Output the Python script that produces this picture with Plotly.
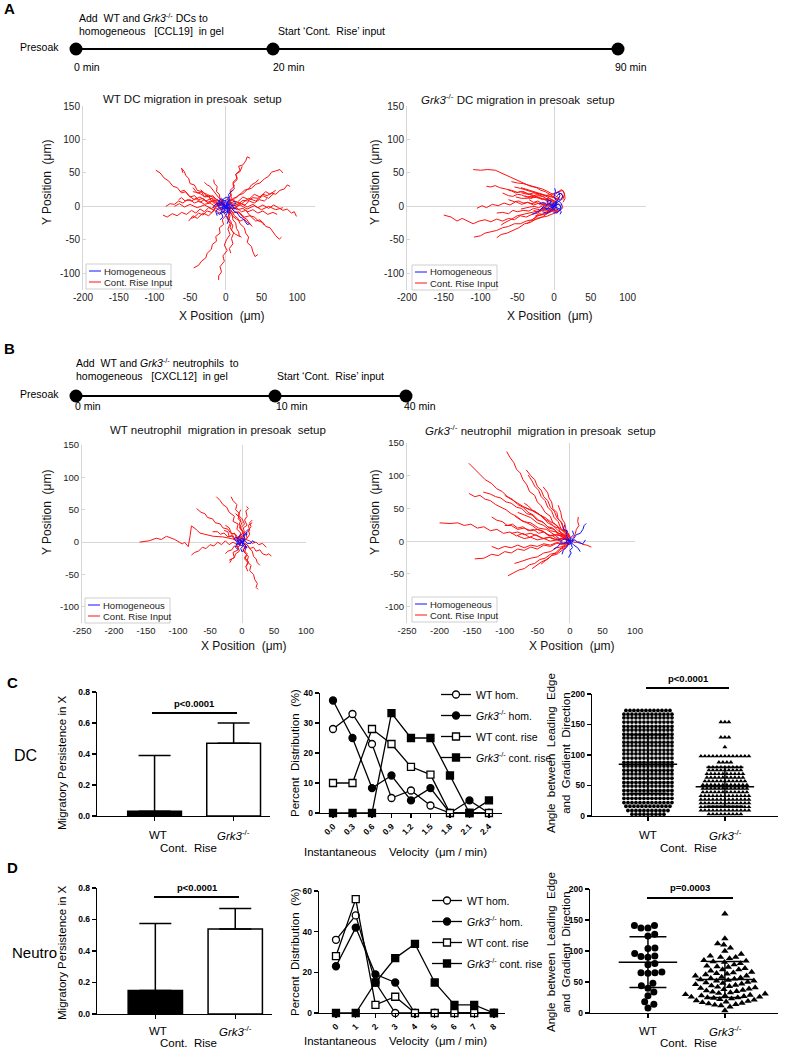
import numpy as np
import plotly.graph_objects as go

W, H = 785, 1050

# ======================= DATA =======================
# --- Panel A: WT DC tracks (x, y in µm) ---
WT_DC_HOMOG = [
    [(0, 0), (-4, 5), (-8, 2), (-10, 8), (-6, 12), (-2, 8), (2, 10)],
    [(0, 0), (4, -4), (8, -2), (12, -8), (16, -10), (20, -16), (24, -18), (30, -27), (34, -26)],
    [(0, 0), (2, 6), (5, 12), (4, 18), (8, 22), (10, 25)],
    [(0, 0), (-6, -5), (-10, -2), (-14, -8), (-12, -14)],
    [(0, 0), (3, -8), (0, -14), (4, -20), (2, -26)],
    [(0, 0), (-5, 4), (-10, 0), (-12, 5), (-15, 2), (-18, -2)],
    [(0, 0), (6, 3), (10, 0), (14, 4), (12, 8)],
    [(0, 0), (-2, -6), (-6, -10), (-4, -16), (-8, -20)],
    [(0, 0), (2, 4), (-2, 6), (-4, 2), (-1, -2), (3, -4), (6, 2)],
    [(0, 0), (-8, -2), (-12, 3), (-6, 6), (-3, 0)],
    [(0, 0), (5, -3), (9, 2), (12, -4), (16, -2)],
    [(0, 0), (-3, -3), (-7, -6), (-4, -9), (0, -6), (4, -10), (8, -8)],
    [(0, 0), (3, 3), (1, 7), (-3, 9), (-6, 5), (-9, 7), (-12, 10)],
    [(0, 0), (-2, 2), (-5, -1), (-3, -4), (1, -3), (3, 1), (5, 5), (8, 6)],
    [(0, 0), (4, -2), (6, -6), (2, -8), (-2, -10), (-6, -8), (-8, -12), (-12, -10)],
    [(0, 0), (-4, 3), (-6, 8), (-2, 12), (2, 14), (6, 10), (4, 6)],
]
WT_DC_RISE = [
    [(0, 0), (4, 6), (2, 12), (8, 16), (6, 24), (12, 30), (10, 36), (16, 42), (14, 48), (20, 54), (18, 60), (24, 62), (28, 68), (30, 74), (34, 72)],
    [(0, 2), (-5, 5), (-9, 3), (-14, 9), (-20, 8), (-24, 15), (-30, 14), (-34, 22), (-40, 24), (-44, 32), (-50, 34), (-52, 42), (-56, 46), (-58, 52), (-62, 57), (-60, 50)],
    [(-2, 0), (-8, 4), (-14, 2), (-20, 8), (-26, 6), (-32, 12), (-38, 10), (-44, 16), (-50, 14), (-56, 22), (-62, 20), (-68, 28), (-74, 30), (-80, 38), (-86, 42), (-92, 50), (-98, 54)],
    [(0, -1), (-6, -4), (-12, 0), (-18, -5), (-24, -2), (-30, -8), (-36, -4), (-42, -10), (-48, -6), (-55, -12), (-62, -9), (-68, -14), (-75, -11), (-82, -16), (-88, -13)],
    [(0, 1), (-6, 5), (-12, 3), (-18, 8), (-24, 5), (-30, 10), (-36, 6), (-42, 12), (-48, 8), (-54, 10), (-60, 5), (-66, 8), (-72, 3), (-78, 4), (-84, 0)],
    [(0, -2), (-3, -8), (0, -14), (-5, -20), (-3, -27), (-9, -32), (-8, -40), (-14, -45), (-13, -52), (-19, -57), (-20, -64), (-26, -70), (-28, -77), (-34, -82), (-38, -88), (-45, -92)],
    [(2, -2), (5, -10), (2, -18), (6, -26), (3, -34), (6, -42), (1, -50), (-2, -58), (2, -66), (-4, -74), (-2, -82), (-8, -90), (-6, -98), (-10, -104), (-10, -110)],
    [(1, -1), (6, -8), (3, -16), (8, -24), (6, -32), (11, -40), (8, -48), (10, -56), (5, -63), (7, -70)],
    [(2, -2), (8, -6), (12, -14), (17, -18), (20, -26), (26, -32), (28, -40), (32, -46), (30, -54), (36, -60), (38, -68), (41, -75), (45, -72)],
    [(2, 0), (9, -4), (15, -2), (22, -8), (28, -6), (34, -14), (40, -16), (46, -22), (52, -24), (56, -30), (62, -32), (66, -38), (70, -44), (75, -49), (78, -46)],
    [(2, 1), (8, 3), (15, 0), (22, 4), (30, -1), (38, 3), (45, -2), (52, 2), (60, -3), (67, 2), (74, -2), (80, -6), (86, -4), (92, -10), (96, -8), (99, -15)],
    [(3, 2), (10, 5), (17, 3), (24, 9), (31, 8), (38, 13), (45, 12), (52, 18), (58, 16), (64, 20), (70, 18), (76, 24), (82, 26), (86, 32), (90, 30)],
    [(1, 3), (6, 9), (12, 11), (18, 17), (24, 19), (30, 25), (36, 27), (42, 33), (48, 35), (54, 41), (60, 45), (64, 51), (70, 53), (76, 55), (80, 50)],
    [(0, 2), (6, 6), (10, 12), (16, 14), (22, 20), (26, 24), (32, 26), (36, 32), (42, 36), (46, 40)],
    [(0, 1), (3, 8), (8, 12), (6, 20), (12, 26), (10, 34), (16, 40), (14, 48), (20, 52), (23, 60)],
    [(-1, 2), (-4, 8), (-8, 10), (-9, 18), (-13, 22), (-12, 30), (-16, 34), (-17, 40)],
    [(-2, 1), (-7, 6), (-12, 5), (-17, 11), (-22, 12), (-26, 18), (-31, 20), (-35, 25)],
    [(-1, -1), (-8, 2), (-15, 0), (-22, 5), (-30, 3), (-37, 8), (-44, 5), (-50, 10), (-57, 8), (-62, 13), (-66, 10)],
    [(1, -2), (5, -8), (9, -12), (10, -20), (14, -25), (15, -33), (18, -38), (19, -45)],
    [(2, -1), (8, -3), (13, -8), (19, -10), (24, -16), (29, -19), (33, -25), (37, -30)],
    [(1, 0), (7, 4), (13, 1), (20, 5), (27, 2), (33, 8), (40, 5), (47, 10), (54, 8), (58, 12)],
    [(2, -1), (9, -1), (16, -5), (24, -3), (31, -8), (38, -5), (45, -10), (52, -7), (59, -12), (66, -9), (72, -12)],
    [(-3, 0), (-8, -6), (-14, -3), (-20, -9), (-26, -7), (-32, -13), (-38, -10), (-44, -16), (-48, -18)],
    [(-2, 2), (-5, 9), (-10, 13), (-14, 19), (-18, 24), (-22, 30), (-26, 32), (-30, 36)],
    [(0, 0), (-6, 7), (-12, 10), (-18, 14), (-24, 17), (-30, 15), (-36, 19), (-42, 21), (-46, 22)],
    [(0, 0), (5, -7), (9, -14), (15, -19), (20, -22), (26, -19), (30, -24), (34, -26)],
    [(0, 0), (-10, 2), (-20, -3), (-30, 2), (-40, -2), (-50, 3), (-58, -1), (-65, 4), (-72, 0)],
    [(0, 0), (10, -3), (20, 2), (30, -4), (40, 1), (50, -5), (60, 0), (70, -5), (80, -2)],
    [(0, 0), (8, 10), (16, 6), (24, 14), (32, 10), (40, 18), (48, 14), (56, 22), (62, 18), (70, 24)],
    [(0, 0), (-8, -10), (-16, -6), (-24, -14), (-32, -10), (-40, -18), (-46, -14), (-52, -22)],
    [(0, 0), (-5, 10), (-12, 8), (-18, 16), (-26, 14), (-32, 22), (-40, 20), (-46, 28)],
    [(0, 0), (12, 8), (22, 4), (32, 12), (42, 8), (52, 16), (60, 12), (68, 20)],
    [(0, 0), (10, -10), (18, -8), (26, -16), (34, -14), (42, -22), (48, -20), (54, -28)],
    [(0, 0), (-12, 4), (-20, 12), (-28, 8), (-36, 14), (-44, 10), (-52, 16), (-58, 24), (-64, 22)],
    [(0, 0), (6, -14), (4, -22), (10, -28), (8, -36), (14, -42), (22, -46)],
]
# --- Panel A: Grk3-/- DC tracks ---
KO_DC_HOMOG = [
    [(0, 0), (-8, -4), (-15, -2), (-22, -8), (-30, -12)],
    [(0, 0), (3, 8), (0, 15), (2, 22), (1, 27)],
    [(0, 0), (6, 4), (10, -2), (8, -6), (4, -10), (-2, -8)],
    [(0, 0), (-5, 5), (-10, 2), (-14, 6), (-20, 4)],
    [(0, 0), (5, 10), (8, 16), (6, 22), (3, 20)],
    [(0, 0), (-4, -6), (-10, -10), (-16, -8)],
    [(0, 0), (-2, 4), (2, 6), (4, 2), (1, -3), (-3, -1)],
    [(0, 0), (-6, 0), (-10, -5), (-14, 0), (-18, -4)],
    [(0, 0), (8, -4), (10, 4), (6, 8)],
    [(0, 0), (4, 6), (10, 10), (12, 16), (8, 20), (4, 16)],
    [(0, 0), (-3, -3), (2, -6), (6, -4), (10, -8), (8, -12)],
    [(0, 0), (-6, 3), (-4, 8), (-10, 10), (-8, 4), (-12, 0)],
]
KO_DC_RISE = [
    [(5, 8), (0, 14), (-6, 18), (-12, 22), (-18, 24), (-24, 28), (-32, 30), (-40, 34), (-48, 38), (-56, 42), (-64, 46), (-72, 50), (-80, 54), (-90, 55), (-100, 54), (-110, 55)],
    [(0, -2), (-8, -6), (-15, -4), (-22, -10), (-30, -12), (-38, -16), (-46, -14), (-54, -20), (-62, -18), (-70, -22), (-78, -19), (-86, -23), (-94, -20), (-102, -22), (-110, -26), (-118, -22), (-125, -18), (-132, -22), (-140, -16), (-150, -13)],
    [(2, -4), (-6, -8), (-14, -12), (-22, -14), (-30, -20), (-38, -22), (-46, -26), (-54, -26), (-62, -30), (-70, -32), (-78, -36), (-86, -38), (-94, -40), (-100, -44), (-109, -46)],
    [(0, -6), (-8, -10), (-16, -16), (-24, -18), (-32, -24), (-40, -26), (-48, -32), (-56, -36), (-64, -40), (-72, -42), (-78, -47)],
    [(3, 0), (-5, 3), (-12, 1), (-20, 5), (-28, 2), (-36, 6), (-44, 3), (-52, 7), (-60, 2), (-68, 5), (-76, 1), (-84, 3), (-92, -2), (-98, 1), (-105, -3)],
    [(5, 5), (-2, 8), (-10, 10), (-18, 12), (-26, 16), (-34, 18), (-42, 22), (-50, 21), (-58, 24), (-66, 26), (-74, 28), (-80, 31), (-86, 29), (-92, 30)],
    [(8, 12), (2, 16), (-4, 20), (-10, 23), (-16, 26), (-22, 28), (-30, 30), (-36, 32), (-42, 34), (-50, 35), (-58, 37)],
    [(2, -2), (-4, -6), (-10, -8), (-16, -12), (-22, -14), (-28, -18), (-32, -22), (-37, -26)],
    [(10, 20), (12, 14), (8, 10), (2, 12), (-4, 14), (-10, 17), (-16, 19), (-22, 21), (-28, 23), (-34, 25), (-40, 26), (-45, 28)],
    [(4, 2), (-4, 5), (-10, 8), (-16, 12), (-24, 13), (-30, 15), (-38, 14), (-44, 17), (-50, 18), (-56, 15), (-62, 16), (-70, 20)],
    [(2, -1), (-6, -3), (-12, -2), (-20, -5), (-28, -3), (-34, -7), (-42, -6), (-50, -8), (-56, -6), (-62, -11), (-70, -9), (-78, -10)],
    [(5, -3), (-2, -5), (-10, -4), (-18, -6), (-26, -8), (-34, -10), (-42, -12), (-50, -14), (-56, -18), (-62, -21), (-68, -25), (-72, -28)],
    [(12, 10), (14, 18), (12, 24), (8, 22), (2, 20), (-4, 18), (-10, 16), (-16, 15), (-22, 16), (-30, 13), (-36, 12), (-44, 12), (-52, 14)],
    [(0, 2), (-6, 1), (-12, 3), (-18, 2), (-24, 6), (-30, 4), (-36, 6), (-42, 5), (-48, 8), (-54, 7), (-62, 10)],
    [(6, -6), (2, -10), (-4, -12), (-10, -15), (-16, -16), (-22, -18), (-26, -20), (-30, -22)],
    [(3, 1), (-3, 2), (-9, 0), (-15, 1), (-21, -2), (-27, 0), (-33, -1), (-39, -3), (-45, -4)],
    [(10, 4), (12, -2), (8, -6), (2, -7), (-4, -5), (-10, -7), (-16, -6), (-22, -8), (-28, -6)],
    [(2, 4), (-4, 8), (-10, 12), (-16, 15), (-22, 18), (-28, 16), (-34, 18), (-40, 21), (-46, 22), (-52, 20), (-58, 23), (-62, 24)],
    [(4, 6), (-2, 10), (-8, 14), (-14, 17), (-22, 19), (-30, 22), (-38, 25), (-46, 27), (-54, 29)],
    [(6, 10), (2, 13), (-4, 15), (-12, 16), (-20, 19), (-28, 20), (-36, 18), (-44, 20)],
    [(8, 2), (2, 4), (-4, 2), (-10, 5), (-16, 4), (-22, 8), (-28, 6), (-34, 10)],
    [(10, -4), (4, -8), (-2, -6), (-8, -10), (-14, -12), (-20, -11), (-26, -15)],
    [(12, 6), (15, 12), (14, 20), (10, 25), (6, 22), (2, 18)],
    [(0, 8), (-8, 12), (-16, 10), (-24, 14), (-32, 12), (-40, 16)],
]
# --- Panel B: WT neutrophil tracks ---
WT_NEU_HOMOG = [
    [(0, 0), (4, 6), (2, 10), (8, 12), (6, 16), (10, 20)],
    [(0, 0), (5, 2), (8, -2), (14, -2), (16, 2), (20, 0)],
    [(0, 0), (-4, -4), (-8, -2), (-10, -8), (-6, -12)],
    [(0, 0), (-6, 4), (-10, 8), (-12, 4), (-8, 0)],
    [(0, 0), (2, -6), (-2, -10), (0, -15), (3, -12)],
    [(0, 0), (5, 5), (2, 10), (6, 14)],
    [(0, 0), (-3, 2), (-1, 6), (3, 4), (2, -1)],
    [(0, 0), (-8, -2), (-6, 6), (-2, 12)],
    [(0, 0), (4, -4), (8, -8), (4, -10), (6, -6)],
    [(0, 0), (-2, 4), (-6, 2), (-4, -4), (0, -6), (2, 2)],
]
WT_NEU_RISE = [
    [(0, 0), (-15, 5), (-30, 8), (-45, 9), (-58, 12), (-66, 14), (-72, 20), (-79, 25), (-81, 10), (-84, -7), (-90, 0), (-93, -3), (-105, 4), (-118, 9), (-126, 4), (-134, 6), (-145, 2), (-160, 0)],
    [(0, 2), (-6, 6), (-10, 12), (-18, 14), (-22, 20), (-30, 22), (-34, 28), (-42, 30), (-46, 36), (-54, 38), (-58, 44), (-64, 46), (-71, 52)],
    [(0, 0), (-4, 8), (-2, 14), (-8, 20), (-6, 28), (-14, 32), (-12, 40), (-20, 46), (-24, 54), (-30, 58), (-34, 64), (-40, 70)],
    [(2, 4), (-2, 10), (2, 16), (-4, 22), (0, 30), (-6, 36), (-4, 44), (-10, 50), (-8, 58), (-14, 64), (-17, 70)],
    [(3, 2), (0, 8), (4, 14), (2, 22), (8, 26), (4, 34), (8, 40), (6, 48), (10, 52), (7, 55)],
    [(2, -2), (8, -4), (12, -10), (18, -8), (22, -14), (28, -12), (32, -18), (38, -20), (42, -18), (46, -22)],
    [(1, 0), (6, 4), (12, 2), (16, -2), (22, 0), (26, -4), (32, -2), (38, -8)],
    [(2, -4), (6, -10), (4, -16), (10, -22), (8, -30), (14, -36), (12, -44), (18, -50), (20, -58), (24, -64), (22, -70), (25, -73)],
    [(0, -2), (4, -8), (2, -14), (8, -20), (4, -26), (10, -32), (6, -38), (9, -45)],
    [(-2, -2), (-6, -8), (-4, -14), (-10, -18), (-12, -24), (-16, -26), (-19, -32)],
    [(-1, 0), (-8, -4), (-14, 0), (-20, -4), (-26, 2), (-32, -4), (-38, 0), (-44, -6), (-50, -4), (-56, -10), (-62, -8), (-68, -14), (-74, -16), (-79, -20)],
    [(0, 1), (-6, 6), (-12, 4), (-16, 10), (-22, 8), (-28, 14), (-34, 12), (-38, 16), (-46, 16)],
    [(1, 3), (-4, 10), (-8, 6), (-12, 14), (-16, 12), (-20, 22), (-26, 26)],
    [(2, 1), (8, 6), (12, 12), (10, 18), (14, 24), (12, 30), (16, 34)],
    [(-1, -2), (-6, -8), (-12, -6), (-16, -12), (-22, -14), (-26, -18)],
    [(2, -1), (8, -4), (12, -10), (16, -14), (18, -22), (22, -26), (24, -32), (28, -36)],
    [(0, 2), (4, 8), (2, 14), (-2, 20), (-4, 28), (-2, 34), (-6, 40), (-10, 44)],
    [(0, 0), (-6, 6), (-10, 2), (-14, 10), (-20, 8), (-22, 16), (-28, 18)],
    [(0, 0), (6, -6), (2, -12), (8, -18), (4, -24), (10, -30), (6, -38)],
    [(0, 0), (-8, -4), (-6, -12), (-14, -16), (-12, -24), (-20, -28)],
    [(0, 0), (8, 6), (6, 14), (12, 18), (10, 26), (16, 30)],
    [(0, 0), (-4, 8), (2, 14), (-2, 22), (4, 28), (0, 36), (-6, 42), (-2, 50)],
]
# --- Panel B: Grk3-/- neutrophil tracks ---
KO_NEU_HOMOG = [
    [(0, 0), (6, 4), (10, 10), (16, 12), (20, 18), (22, 24), (25, 27)],
    [(0, 0), (-6, 10), (-4, 16), (-10, 18), (-8, 25)],
    [(0, 0), (-10, -4), (-14, -2), (-18, -8), (-25, -12)],
    [(0, 0), (4, -10), (0, -14), (2, -18), (-2, -25)],
    [(0, 0), (8, 2), (12, -2), (20, -4), (24, 2)],
    [(0, 0), (-8, 4), (-14, 0), (-20, 6)],
    [(0, 0), (6, -6), (12, -10), (16, -16)],
    [(0, 0), (-4, -8), (-10, -14), (-12, -20)],
    [(0, 0), (2, 6), (6, 10), (4, 16)],
    [(0, 0), (-3, 3), (-6, -2), (-2, -5), (3, -3), (5, 3)],
]
KO_NEU_RISE = [
    [(0, 0), (-6, 8), (-14, 12), (-18, 22), (-26, 28), (-30, 38), (-38, 44), (-44, 54), (-50, 60), (-54, 70), (-62, 76), (-66, 86), (-72, 94), (-76, 104), (-82, 110), (-86, 120), (-92, 128), (-97, 137)],
    [(-2, 2), (-10, 8), (-18, 10), (-24, 18), (-32, 20), (-40, 28), (-48, 32), (-56, 40), (-64, 44), (-72, 52), (-80, 56), (-88, 64), (-96, 68), (-104, 76), (-112, 80), (-120, 88), (-130, 94), (-138, 102), (-146, 110), (-155, 119)],
    [(0, 0), (-10, 4), (-18, 2), (-26, 8), (-34, 10), (-42, 16), (-50, 18), (-58, 24), (-66, 28), (-74, 32), (-82, 38), (-90, 42), (-98, 48), (-106, 52), (-114, 56), (-122, 62), (-130, 64), (-138, 70), (-146, 68), (-155, 73)],
    [(-2, 0), (-12, 4), (-22, 2), (-32, 6), (-42, 4), (-52, 10), (-62, 6), (-72, 12), (-82, 8), (-92, 14), (-102, 12), (-112, 18), (-122, 16), (-132, 22), (-142, 20), (-152, 26), (-162, 24), (-172, 28), (-184, 27), (-200, 28)],
    [(0, -2), (-10, -6), (-20, -3), (-30, -8), (-40, -6), (-50, -12), (-60, -9), (-70, -14), (-80, -12), (-90, -18), (-100, -16), (-110, -22), (-120, -20), (-132, -26), (-146, -27)],
    [(0, -4), (-8, -8), (-16, -12), (-22, -18), (-30, -20), (-38, -26), (-46, -28), (-54, -34), (-62, -36), (-70, -42), (-78, -44), (-86, -48), (-95, -53)],
    [(-2, -4), (-8, -10), (-14, -12), (-20, -18), (-26, -20), (-32, -26), (-38, -30), (-44, -35)],
    [(2, 0), (8, -2), (14, -1), (20, -5), (26, -6), (33, -9)],
    [(0, 4), (-4, 12), (-10, 18), (-12, 28), (-18, 34), (-20, 44), (-26, 50), (-28, 60), (-32, 66), (-34, 74), (-41, 83)],
    [(-2, 6), (-8, 14), (-14, 20), (-18, 30), (-24, 36), (-28, 46), (-34, 52), (-38, 62), (-44, 68), (-48, 78), (-54, 84), (-58, 92), (-64, 101)],
    [(0, 2), (-8, 6), (-16, 4), (-24, 10), (-32, 8), (-40, 14), (-48, 12), (-56, 18), (-64, 16), (-72, 22), (-80, 20), (-88, 26), (-96, 24), (-104, 30), (-112, 32), (-120, 37)],
    [(-2, 4), (-10, 10), (-18, 12), (-26, 20), (-34, 22), (-42, 30), (-50, 32), (-58, 40), (-66, 42), (-74, 50), (-82, 52), (-90, 58), (-98, 60), (-106, 66), (-114, 68), (-122, 72), (-133, 75)],
    [(0, 6), (-4, 14), (-10, 20), (-14, 30), (-20, 36), (-24, 46), (-30, 52), (-34, 62), (-40, 68), (-44, 78), (-50, 84), (-54, 94), (-60, 100), (-67, 109)],
    [(2, 4), (-2, 12), (-6, 18), (-8, 28), (-12, 34), (-14, 44), (-18, 55)],
    [(4, 4), (8, 10), (10, 18), (14, 24), (12, 30), (13, 37)],
    [(0, 2), (-10, 6), (-20, 10), (-30, 8), (-40, 14), (-50, 18), (-60, 16), (-70, 20), (-80, 18), (-90, 24), (-100, 24)],
    [(-1, -2), (-10, -4), (-20, -2), (-30, -6), (-40, -4), (-50, -8), (-60, -6), (-70, -10), (-80, -6), (-90, -10), (-100, -8), (-110, -12), (-120, -8)],
    [(0, -1), (-10, -8), (-20, -10), (-30, -16), (-40, -18), (-50, -24), (-60, -26), (-70, -30), (-78, -32), (-85, -34)],
    [(0, 3), (-10, 8), (-20, 14), (-30, 16), (-40, 24), (-50, 28), (-60, 36), (-70, 40), (-80, 44)],
    [(0, 0), (-8, 10), (-18, 16), (-26, 24), (-34, 28), (-42, 38), (-50, 42), (-60, 48), (-70, 52), (-80, 58), (-90, 64), (-100, 70)],
    [(0, 2), (-10, 4), (-20, 2), (-30, 6), (-40, 4), (-50, 8), (-60, 12), (-70, 10), (-80, 14), (-90, 12)],
    [(0, 4), (-6, 14), (-14, 18), (-22, 26), (-30, 30), (-38, 36), (-46, 40), (-54, 46), (-62, 48), (-70, 52)],
    [(0, -2), (-10, -2), (-20, 2), (-30, 0), (-40, 4), (-50, 2), (-60, 6), (-70, 4), (-80, 8)],
    [(0, 0), (-6, -10), (-12, -14), (-20, -20), (-28, -22), (-36, -28), (-44, -32), (-52, -38), (-58, -42)],
    [(0, 5), (-8, 12), (-16, 20), (-24, 22), (-32, 30), (-40, 34), (-48, 42), (-56, 46), (-64, 54), (-70, 58)],
    [(0, 0), (-12, 8), (-24, 10), (-36, 18), (-48, 20), (-60, 28), (-72, 30), (-84, 38)],
]

# --- Migratory persistence (bars, mean + SD) ---
GROUPS = ["WT", "Grk3-/-"]
DC_PERSIST_MEAN = [0.03, 0.47]
DC_PERSIST_SD = [0.36, 0.13]
NEU_PERSIST_MEAN = [0.15, 0.54]
NEU_PERSIST_SD = [0.425, 0.13]

# --- Instantaneous velocity distributions (%) ---
DC_VEL_LABELS = ["0.0", "0.3", "0.6", "0.9", "1.2", "1.5", "1.8", "2.1", "2.4"]
DC_WT_HOM = [28, 33, 23, 5, 7.5, 2.5, 0, 0, 0]
DC_KO_HOM = [37.5, 25, 8.3, 12.5, 4.2, 8.3, 0, 4.2, 0]
DC_WT_RISE = [10, 10, 28, 23, 15.4, 12.8, 0, 0, 0]
DC_KO_RISE = [0, 0, 0, 33.3, 25, 25, 12.5, 0, 4.2]
NEU_VEL_LABELS = ["0", "1", "2", "3", "4", "5", "6", "7", "8"]
NEU_WT_HOM = [36, 48, 15, 0, 0, 0, 0, 0, 0]
NEU_KO_HOM = [23, 42, 19, 15, 0, 0, 0, 0, 0]
NEU_WT_RISE = [28, 56, 4, 8, 0, 0, 0, 0, 0]
NEU_KO_RISE = [0, 0, 15, 27, 34, 15, 4, 4, 0]

# --- Angle between leading edge and gradient direction (deg) ---
DC_WT_ANGLE_LEVELS = [3, 9, 16, 22, 29, 36, 42, 49, 55, 62, 69, 75, 82, 88, 95, 102, 108, 115, 121, 128, 134, 141, 147, 154, 161, 167, 173]
DC_WT_ANGLE_COUNTS = [9, 11, 12, 13, 13, 13, 13, 13, 13, 13, 13, 13, 13, 13, 13, 13, 13, 13, 13, 13, 13, 13, 13, 13, 13, 13, 12]
DC_KO_ANGLE_LEVELS = [3, 9, 15, 21, 27, 33, 39, 45, 51, 57, 63, 69, 75, 80, 88, 98, 113, 129, 154]
DC_KO_ANGLE_COUNTS = [9, 13, 13, 13, 13, 13, 12, 12, 12, 11, 10, 10, 9, 9, 4, 13, 1, 3, 3]
DC_ANGLE_MEAN = [85, 48]
DC_ANGLE_SD = [48, 32]
NEU_WT_ANGLES = [141, 137, 137, 141, 127, 124, 105, 104, 96, 92, 91, 90, 80, 78, 66, 65, 65, 64, 48, 44, 40, 34, 28, 18, 14, 8]
NEU_KO_ANGLES = [160, 120, 112, 110, 105, 100, 95, 92, 90, 90, 88, 85, 84, 83, 82, 80, 78, 76, 75, 74, 72, 70,
                 70, 68, 66, 65, 64, 63, 62, 60, 60, 58, 57, 56, 55, 54, 53, 52, 52, 50, 49, 48, 47, 46, 45, 44,
                 43, 42, 41, 40, 39, 38, 37, 36, 35, 34, 33, 32, 31, 30, 29, 28, 28, 27, 26, 26, 25, 25, 24, 23,
                 22, 21, 20, 19, 18, 17, 16, 15, 14, 13, 12, 10, 4]
NEU_ANGLE_MEAN = [82, 54]
NEU_ANGLE_SD = [41, 29]

# ======================= HELPERS =======================
FONT = "Liberation Sans, Arial, Helvetica, sans-serif"
NARROW = "Liberation Sans Narrow, Arial Narrow, Liberation Sans, Arial, sans-serif"
KO = "<i>Grk3</i><sup>-/-</sup>"


def X(p):
    return p / W


def Y(p):
    return 1 - p / H


fig = go.Figure()
layout = dict(width=W, height=H, autosize=False,
              margin=dict(l=0, r=0, t=0, b=0, pad=0, autoexpand=False),
              paper_bgcolor="white", plot_bgcolor="white", showlegend=True, template="none",
              font=dict(family=FONT, color="black"))
shapes, anns = [], []


def ann(text, x, y, size=11, xa="center", ya="middle", angle=0, bold=False, family=FONT, color="black"):
    anns.append(dict(text=text, x=X(x), y=Y(y), xref="paper", yref="paper", showarrow=False,
                     font=dict(size=size, family=family, color=color, weight="bold" if bold else "normal"),
                     xanchor=xa, yanchor=ya, textangle=angle))


def pline(x0, x1, y0, y1, color="black", width=1.5):
    shapes.append(dict(type="line", xref="paper", yref="paper", x0=X(x0), x1=X(x1), y0=Y(y0), y1=Y(y1),
                       line=dict(color=color, width=width)))


def dot(x, y, r):
    shapes.append(dict(type="circle", xref="paper", yref="paper", x0=X(x - r), x1=X(x + r), y0=Y(y + r),
                       y1=Y(y - r), fillcolor="black", line=dict(color="black", width=0)))


def ax_names(n):
    s = "" if n == 1 else str(n)
    return "xaxis" + s, "yaxis" + s, "x" + s, "y" + s


def tracks_xy(tracks):
    xs, ys = [], []
    for t in tracks:
        for (a, b) in t:
            xs.append(a)
            ys.append(b)
        xs.append(None)
        ys.append(None)
    return xs, ys


GRAY = "#d6d6d6"


def traj_panel(n, xpx, ypx, xr, xticks, homog, rise, fs):
    xa, ya, xr_, yr_ = ax_names(n)
    yt = [-100, -50, 0, 50, 100, 150]
    layout[xa] = dict(domain=[X(xpx[0]), X(xpx[1])], range=xr, anchor=yr_, showgrid=False, zeroline=True,
                      zerolinecolor=GRAY, zerolinewidth=1, showline=False, ticks="", tickvals=xticks,
                      ticktext=[str(v) for v in xticks], automargin=False,
                      tickfont=dict(size=fs, color="#222"), fixedrange=True)
    layout[ya] = dict(domain=[Y(ypx[1]), Y(ypx[0])], range=[-125, 150], anchor=xr_, showgrid=False,
                      zeroline=True, zerolinecolor=GRAY, zerolinewidth=1, showline=True, linecolor=GRAY,
                      linewidth=1, ticks="inside", ticklen=3, tickcolor=GRAY, automargin=False,
                      tickvals=yt, ticktext=[str(v) for v in yt], tickfont=dict(size=fs, color="#222"),
                      fixedrange=True)
    rx, ry = tracks_xy(rise)
    bx, by = tracks_xy(homog)
    fig.add_trace(go.Scatter(x=rx, y=ry, mode="lines", line=dict(color="#ff1010", width=1),
                             xaxis=xr_, yaxis=yr_, showlegend=False, hoverinfo="skip"))
    fig.add_trace(go.Scatter(x=bx, y=by, mode="lines", line=dict(color="#1010ff", width=1),
                             xaxis=xr_, yaxis=yr_, showlegend=False, hoverinfo="skip"))


def traj_legend(x0, y0):
    shapes.append(dict(type="rect", xref="paper", yref="paper", x0=X(x0), x1=X(x0 + 85), y0=Y(y0 + 25),
                       y1=Y(y0), fillcolor="white", line=dict(color="#cfcfcf", width=1)))
    pline(x0 + 3, x0 + 15, y0 + 7, y0 + 7, color="#1010ff", width=1)
    pline(x0 + 3, x0 + 15, y0 + 18, y0 + 18, color="#ff1010", width=1)
    ann("Homogeneous", x0 + 16, y0 + 7, size=9.5, xa="left", color="#222")
    ann("Cont. Rise Input", x0 + 16, y0 + 18, size=9.5, xa="left", color="#222")


# ======================= PANEL A & B =======================
ann("A", 2, 9, size=15, xa="left", bold=True)
ann("B", 2, 348, size=15, xa="left", bold=True)

TLS = 10.5
pline(76, 618, 49, 49, width=2)
for xx in (76, 273, 618):
    dot(xx, 49, 6.5)
ann("Presoak", 61, 47, size=TLS, xa="right", family=NARROW)
ann("Add  WT and " + KO + " DCs to", 77, 17, size=TLS, xa="left", family=NARROW)
ann("homogeneous   [CCL19]  in gel", 77, 31, size=TLS, xa="left", family=NARROW)
ann("Start \u2018Cont.  Rise\u2019 input", 276, 31, size=TLS, xa="left", family=NARROW)
ann("0 min", 72, 67, size=TLS, xa="left", family=NARROW)
ann("20 min", 271, 67, size=TLS, xa="left", family=NARROW)
ann("90 min", 613, 67, size=TLS, xa="left", family=NARROW)

pline(76, 406, 396, 396, width=2)
for xx in (76, 275, 406):
    dot(xx, 396, 6.5)
ann("Presoak", 61, 394, size=TLS, xa="right", family=NARROW)
ann("Add  WT and " + KO + " neutrophils  to", 74, 362, size=TLS, xa="left", family=NARROW)
ann("homogeneous   [CXCL12]  in gel", 74, 376, size=TLS, xa="left", family=NARROW)
ann("Start \u2018Cont.  Rise\u2019 input", 275, 376, size=TLS, xa="left", family=NARROW)
ann("0 min", 73, 406, size=TLS, xa="left", family=NARROW)
ann("10 min", 274, 406, size=TLS, xa="left", family=NARROW)
ann("40 min", 402, 406, size=TLS, xa="left", family=NARROW)

XT_A = [-200, -150, -100, -50, 0, 50, 100]
XT_B = [-250, -200, -150, -100, -50, 0, 50, 100]
traj_panel(1, (83, 315), (106, 290), [-200, 125], XT_A, WT_DC_HOMOG, WT_DC_RISE, 10)
traj_panel(2, (407, 646), (106, 290), [-200, 125], XT_A, KO_DC_HOMOG, KO_DC_RISE, 10)
traj_panel(3, (82, 306), (445, 623), [-250, 100], XT_B, WT_NEU_HOMOG, WT_NEU_RISE, 9.5)
traj_panel(4, (407, 635), (443, 623), [-250, 100], XT_B, KO_NEU_HOMOG, KO_NEU_RISE, 9.5)

ann("WT DC migration in presoak  setup", 192, 99, size=11.5, color="#111")
ann(KO + " DC migration in presoak  setup", 518, 99, size=11.5, color="#111")
ann("WT neutrophil  migration in presoak  setup", 218, 430, size=11.5, color="#111")
ann(KO + " neutrophil  migration in presoak  setup", 540, 430, size=11.5, color="#111")
for (xx, yy) in ((47, 183), (375, 183), (47, 513), (375, 513)):
    ann("Y Position  (\u03bcm)", xx, yy, size=12, angle=-90, color="#111")
for (xx, yy) in ((222, 316), (550, 316), (244, 646), (572, 646)):
    ann("X Position  (\u03bcm)", xx, yy, size=12, color="#111")
traj_legend(86, 264)
traj_legend(412, 265)
traj_legend(85, 598)
traj_legend(412, 597)

# ======================= PANEL C & D =======================
ann("C", 5, 682, size=15, xa="left", bold=True)
ann("D", 5, 867, size=15, xa="left", bold=True)
ann("DC", 12, 755, size=16, xa="left")
ann("Neutro", 10, 952, size=15, xa="left")

TICKF = dict(size=8.5, color="black", weight="bold")


def black_axes(n, xpx, ypx, xr, yr, yticks, xticks=None, xticktext=None, tickangle=0):
    xa, ya, xr_, yr_ = ax_names(n)
    layout[xa] = dict(domain=[X(xpx[0]), X(xpx[1])], range=xr, anchor=yr_, showgrid=False, zeroline=False,
                      showline=True, linecolor="black", linewidth=1.3, ticks="outside", ticklen=4,
                      tickwidth=1.3, tickcolor="black", tickvals=xticks if xticks is not None else [0, 1],
                      ticktext=xticktext if xticktext is not None else ["", ""],
                      showticklabels=xticktext is not None, tickangle=tickangle, automargin=False,
                      tickfont=TICKF, fixedrange=True)
    layout[ya] = dict(domain=[Y(ypx[1]), Y(ypx[0])], range=yr, anchor=xr_, showgrid=False, zeroline=False,
                      showline=True, linecolor="black", linewidth=1.3, ticks="outside", ticklen=4,
                      tickwidth=1.3, tickcolor="black", tickvals=yticks, tickfont=TICKF, automargin=False,
                      fixedrange=True)
    return xr_, yr_


# ---- bar charts ----
def bar_panel(n, xpx, ypx, xr, means, sds):
    xr_, yr_ = black_axes(n, xpx, ypx, xr, [0, 0.8], [0, 0.2, 0.4, 0.6, 0.8])
    layout[ax_names(n)[1]]["tickformat"] = ".1f"
    fig.add_trace(go.Bar(x=[0, 1], y=means, width=0.68,
                         marker=dict(color=["black", "white"], line=dict(color="black", width=1.5)),
                         error_y=dict(type="data", symmetric=False, array=sds, arrayminus=[0, 0],
                                      color="black", thickness=1.5, width=16),
                         xaxis=xr_, yaxis=yr_, showlegend=False, hoverinfo="skip"))


bar_panel(5, (97, 270), (692, 816), [-0.728, 1.46], DC_PERSIST_MEAN, DC_PERSIST_SD)
bar_panel(8, (97, 272), (888, 1014), [-0.73, 1.46], NEU_PERSIST_MEAN, NEU_PERSIST_SD)
for yy in (763, 953):
    ann("Migratory Persistence in X", 62, yy, size=11.5, angle=-90)
pline(152, 237, 713, 713, width=1.8)
ann("p<0.0001", 194, 703, size=9.5, bold=True)
pline(154, 239, 897, 897, width=1.8)
ann("p<0.0001", 197, 887, size=9.5, bold=True)

for (cx, yy) in ((158, 835), (648, 835), (158, 1031), (648, 1031)):
    ann("WT", cx, yy, size=11.5)
for (cx, yy) in ((233, 835), (725, 835), (235, 1031), (725, 1031)):
    ann(KO, cx, yy, size=11.5)
for (cx, yy) in ((188, 848), (688, 848), (188, 1043), (688, 1043)):
    ann("Cont.  Rise", cx, yy, size=11.5)


# ---- velocity distribution line charts ----
def vel_panel(n, xpx, ypx, xr, yr, yticks, labels, series, legend_name):
    xr_, yr_ = black_axes(n, xpx, ypx, xr, yr, yticks, xticks=list(range(len(labels))),
                          xticktext=labels, tickangle=-45)
    names = ["WT hom.", KO + " hom.", "WT cont. rise", KO + " cont. rise"]
    styles = [("circle", "white"), ("circle", "black"), ("square", "white"), ("square", "black")]
    for nm, (sym, fill), vals in zip(names, styles, series):
        fig.add_trace(go.Scatter(x=list(range(len(labels))), y=vals, mode="lines+markers", name=nm,
                                 line=dict(color="black", width=1.3),
                                 marker=dict(symbol=sym, size=7, color=fill, line=dict(color="black", width=1.3)),
                                 xaxis=xr_, yaxis=yr_, cliponaxis=False, legend=legend_name,
                                 legendgroup=legend_name + nm, hoverinfo="skip"))


vel_panel(6, (320, 502), (693, 813), [-0.667, 8.67], [0, 40], [0, 10, 20, 30, 40], DC_VEL_LABELS,
          [DC_WT_HOM, DC_KO_HOM, DC_WT_RISE, DC_KO_RISE], "legend")
vel_panel(9, (319, 505), (891, 1013), [-0.86, 8.56], [0, 60], [0, 20, 40, 60], NEU_VEL_LABELS,
          [NEU_WT_HOM, NEU_KO_HOM, NEU_WT_RISE, NEU_KO_RISE], "legend2")
leg_style = dict(xanchor="left", yanchor="top", bgcolor="rgba(0,0,0,0)", font=dict(size=10.5, family=FONT),
                 traceorder="grouped", tracegroupgap=2, itemwidth=30)
layout["legend"] = dict(x=X(436), y=Y(680), **leg_style)
layout["legend2"] = dict(x=X(427), y=Y(886), **leg_style)
ann("Percent  Distribution  (%)", 295, 753, size=11.5, angle=-90)
ann("Percent  Distribution  (%)", 295, 952, size=11.5, angle=-90)
ann("Instantaneous    Velocity  (\u03bcm / min)", 395, 852, size=11.5)
ann("Instantaneous    Velocity  (\u03bcm / min)", 395, 1041, size=11.5)


# ---- angle scatter panels ----
def row_swarm(levels, counts, spacing):
    xs, ys = [], []
    for v, c in zip(levels, counts):
        offs = (np.arange(c) - (c - 1) / 2.0) * spacing
        xs.extend(offs.tolist())
        ys.extend([v] * c)
    return np.array(xs), np.array(ys)


def beeswarm(vals, ypx, xpx, d):
    vals = np.asarray(vals, dtype=float)
    order = np.argsort(vals)
    placed = []
    offs = np.zeros(len(vals))
    for i in order:
        yv = vals[i] * ypx
        cands = [0.0]
        for (pyv, pxv) in placed:
            dy = yv - pyv
            if abs(dy) < d:
                dx = np.sqrt(d * d - dy * dy)
                cands += [pxv + dx, pxv - dx]
        cands.sort(key=abs)
        chosen = cands[-1]
        for c in cands:
            if all((yv - pyv) ** 2 + (c - pxv) ** 2 >= d * d - 1e-6 for pyv, pxv in placed):
                chosen = c
                break
        placed.append((yv, chosen))
        offs[i] = chosen / xpx
    return offs


def mean_sd_lines(xr_, yr_, means, sds, hw_mean, hw_sd):
    for gi, (m, s) in enumerate(zip(means, sds)):
        fig.add_trace(go.Scatter(x=[gi - hw_mean, gi + hw_mean, None, gi - hw_sd, gi + hw_sd, None,
                                    gi - hw_sd, gi + hw_sd, None, gi, gi],
                                 y=[m, m, None, m + s, m + s, None, m - s, m - s, None, m - s, m + s],
                                 mode="lines", line=dict(color="black", width=1.5), xaxis=xr_, yaxis=yr_,
                                 showlegend=False, hoverinfo="skip", cliponaxis=False))


xr_, yr_ = black_axes(7, (592, 778), (694, 816), [-0.727, 1.69], [0, 200], [0, 50, 100, 150, 200])
sp = 4.0 / 77.0
wx, wy = row_swarm(DC_WT_ANGLE_LEVELS, DC_WT_ANGLE_COUNTS, sp)
kx, ky = row_swarm(DC_KO_ANGLE_LEVELS, DC_KO_ANGLE_COUNTS, sp)
fig.add_trace(go.Scatter(x=wx, y=wy, mode="markers", marker=dict(symbol="circle", size=3.8, color="black"),
                         xaxis=xr_, yaxis=yr_, showlegend=False, cliponaxis=False, hoverinfo="skip"))
fig.add_trace(go.Scatter(x=1 + kx, y=ky, mode="markers",
                         marker=dict(symbol="triangle-up", size=4.4, color="black"),
                         xaxis=xr_, yaxis=yr_, showlegend=False, cliponaxis=False, hoverinfo="skip"))
mean_sd_lines(xr_, yr_, DC_ANGLE_MEAN, DC_ANGLE_SD, 0.38, 0.24)

xr_, yr_ = black_axes(10, (590, 778), (889, 1013), [-0.753, 1.69], [0, 200], [0, 50, 100, 150, 200])
wo = beeswarm(NEU_WT_ANGLES, 124 / 200.0, 77.0, 7.0)
ko = beeswarm(NEU_KO_ANGLES, 124 / 200.0, 77.0, 6.3)
fig.add_trace(go.Scatter(x=wo, y=NEU_WT_ANGLES, mode="markers", marker=dict(symbol="circle", size=7, color="black"),
                         xaxis=xr_, yaxis=yr_, showlegend=False, cliponaxis=False, hoverinfo="skip"))
fig.add_trace(go.Scatter(x=1 + ko, y=NEU_KO_ANGLES, mode="markers",
                         marker=dict(symbol="triangle-up", size=6.5, color="black"),
                         xaxis=xr_, yaxis=yr_, showlegend=False, cliponaxis=False, hoverinfo="skip"))
mean_sd_lines(xr_, yr_, NEU_ANGLE_MEAN, NEU_ANGLE_SD, 0.38, 0.24)

for yy in (753, 952):
    ann("Angle  between  Leading  Edge<br>and  Gradient  Direction", 558, yy, size=11.5, angle=-90)
pline(646, 729, 688, 688, width=1.8)
ann("p<0.0001", 688, 679, size=9.5, bold=True)
pline(647, 733, 898, 898, width=1.8)
ann("p=0.0003", 690, 887, size=9.5, bold=True)

layout["shapes"] = shapes
layout["annotations"] = anns
fig.update_layout(**layout)
fig.write_html("out.html", config={"displayModeBar": False, "staticPlot": True},
               post_script="document.documentElement.style.margin='0';document.body.style.margin='0';"
                           "document.body.style.padding='0';document.body.style.overflow='hidden';")
